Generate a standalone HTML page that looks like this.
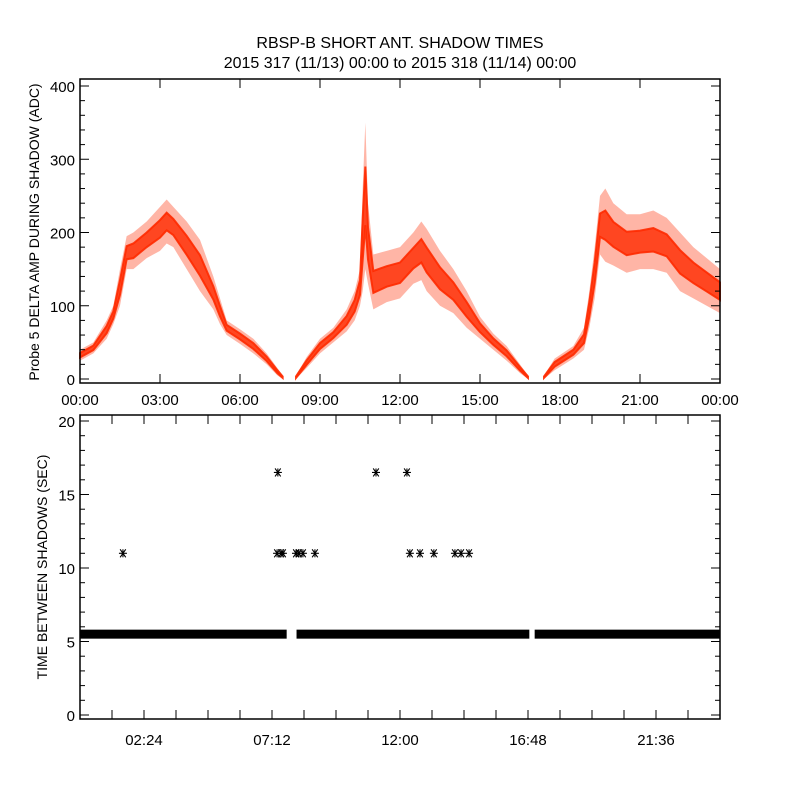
<!DOCTYPE html>
<html><head><meta charset="utf-8"><style>
body{margin:0;background:#fff;}
svg text{font-family:"Liberation Sans",sans-serif;fill:#000;}
</style></head><body>
<svg id="c" width="800" height="800" xmlns="http://www.w3.org/2000/svg">
<rect width="800" height="800" fill="#fff"/>
<text x="400" y="48" font-size="16" text-anchor="middle">RBSP-B SHORT ANT. SHADOW TIMES</text>
<text x="400" y="68" font-size="16" text-anchor="middle">2015 317 (11/13) 00:00 to 2015 318 (11/14) 00:00</text>
<g id="topPanel"></g><g id="botPanel"></g>
</svg>
<script>
// top panel data: hours, low envelope, high envelope (ADC)
const hrs1=[0,0.5,1.0,1.25,1.5,1.75,2.0,2.5,3.0,3.25,3.5,4.0,4.5,5.0,5.25,5.5,6.0,6.5,7.0,7.4,7.6];
const lo1=[25,35,55,75,100,150,150,165,175,185,180,150,120,95,75,60,48,35,20,5,0];
const hi1=[40,50,80,100,150,195,200,215,235,245,235,215,190,140,110,80,68,55,35,15,5];
const hrs2=[8.1,8.5,9.0,9.5,10.0,10.3,10.5,10.6,10.7,10.8,11.0,11.5,12.0,12.5,12.8,13.0,13.5,14.0,14.5,15.0,15.5,16.0,16.5,16.8];
const lo2=[0,15,35,50,65,80,100,120,150,130,95,105,110,130,135,120,100,90,70,55,40,25,8,0];
const hi2=[5,30,55,70,95,120,150,260,350,240,170,175,180,200,215,205,175,150,120,85,62,45,20,5];
const hrs3=[17.4,17.8,18.5,18.9,19.1,19.3,19.5,19.7,20.0,20.5,21.0,21.5,22.0,22.5,23.0,23.5,24.0];
const lo3=[0,12,28,40,70,110,170,160,155,145,150,150,145,120,110,100,90];
const hi3=[5,28,45,70,120,180,250,260,240,225,225,230,220,200,180,165,150];
const topTicks=["00:00","03:00","06:00","09:00","12:00","15:00","18:00","21:00","00:00"];
const topYTicks=[0,100,200,300,400];
// bottom panel data
const bandSegs=[[0,7.75],[8.12,16.85],[17.05,24]];
const bandVal=5.5;
const outT=[1.61,7.42,7.39,7.54,7.61,8.1,8.21,8.36,8.81,11.1,12.26,12.37,12.75,13.27,14.06,14.29,14.59];
const outV=[11,16.5,11,11,11,11,11,11,11,16.5,16.5,11,11,11,11,11,11];
const botTicks=["02:24","07:12","12:00","16:48","21:36"];
const botYTicks=[0,5,10,15,20];

const NS="http://www.w3.org/2000/svg";
function mk(p,tag,at){const e=document.createElementNS(NS,tag);for(const k in at)e.setAttribute(k,at[k]);p.appendChild(e);return e;}
const X=h=>80+h*640/24;
const Yt=v=>379-v*0.7325;
const Yb=v=>715-v*14.7;
const gTop=document.getElementById('topPanel'),gBot=document.getElementById('botPanel');

// top series
[[hrs1,lo1,hi1],[hrs2,lo2,hi2],[hrs3,lo3,hi3]].forEach((s,i)=>{
  const [h,l,u]=s;
  let pts=h.map((t,j)=>X(t)+','+Yt(u[j])).concat(h.map((t,j)=>X(t)+','+Yt(l[j])).reverse());
  const o=mk(gTop,'polygon',{points:pts.join(' '),fill:'#ff2a00','fill-opacity':'0.35'});
  
  
  let pc=h.map((t,j)=>X(t)+','+Yt(u[j]-(u[j]-l[j])*0.3)).concat(h.map((t,j)=>X(t)+','+Yt(l[j]+(u[j]-l[j])*0.3)).reverse());
  const c=mk(gTop,'polygon',{points:pc.join(' '),fill:'#ff2a00',stroke:'#ff2a00','stroke-width':'2','fill-opacity':'0.8','stroke-opacity':'0.9'});
  
  
});
// top axes
const tb=mk(gTop,'rect',{x:80,y:79,width:640,height:304,fill:'none',stroke:'#000','stroke-width':1.5});


for(let v=0;v<=400;v+=20){const y=Yt(v),L=v%100===0?9:5;
  mk(gTop,'line',{x1:80,x2:80+L,y1:y,y2:y,stroke:'#000'});mk(gTop,'line',{x1:720,x2:720-L,y1:y,y2:y,stroke:'#000'});}
topYTicks.forEach(v=>{const t=mk(gTop,'text',{x:75,y:Yt(v)+6,'font-size':15,'text-anchor':'end'});t.textContent=v;
  
  });
topTicks.forEach((s,i)=>{const x=X(i*3);
  mk(gTop,'line',{x1:x,x2:x,y1:383,y2:374,stroke:'#000'});mk(gTop,'line',{x1:x,x2:x,y1:79,y2:88,stroke:'#000'});
  const t=mk(gTop,'text',{x:x,y:405,'font-size':15,'text-anchor':'middle'});t.textContent=s;
  
  });
const ty=mk(gTop,'text',{x:0,y:0,'font-size':14,'text-anchor':'middle',transform:'translate(39,232) rotate(-90)'});
ty.textContent='Probe 5 DELTA AMP DURING SHADOW (ADC)';



// bottom band
bandSegs.forEach(s=>{const r=mk(gBot,'rect',{x:X(s[0]),y:Yb(bandVal)-4.5,width:X(s[1])-X(s[0]),height:9,fill:'#000'});
  
  });
outT.forEach((t,i)=>{const x=X(t),y=Yb(outV[i]),d=4;
  const g=mk(gBot,'g',{stroke:'#000','stroke-width':1.1});
  
  
  mk(g,'line',{x1:x-d,x2:x+d,y1:y,y2:y});mk(g,'line',{x1:x-d*0.7,x2:x+d*0.7,y1:y-d,y2:y+d});mk(g,'line',{x1:x-d*0.7,x2:x+d*0.7,y1:y+d,y2:y-d});mk(g,'line',{x1:x,x2:x,y1:y-d,y2:y+d});});
const bb=mk(gBot,'rect',{x:80,y:415,width:640,height:304,fill:'none',stroke:'#000','stroke-width':1.5});


for(let v=0;v<=20;v++){const y=Yb(v),L=v%5===0?9:5;
  mk(gBot,'line',{x1:80,x2:80+L,y1:y,y2:y,stroke:'#000'});mk(gBot,'line',{x1:720,x2:720-L,y1:y,y2:y,stroke:'#000'});}
botYTicks.forEach(v=>{const t=mk(gBot,'text',{x:75,y:Yb(v)+6,'font-size':15,'text-anchor':'end'});t.textContent=v;
  
  });
for(let k=1;k<20;k++){const x=X(k*1.2);
  mk(gBot,'line',{x1:x,x2:x,y1:719,y2:710,stroke:'#000'});mk(gBot,'line',{x1:x,x2:x,y1:415,y2:424,stroke:'#000'});}
botTicks.forEach((s,i)=>{const x=X(2.4+i*4.8);
  const t=mk(gBot,'text',{x:x,y:745,'font-size':15,'text-anchor':'middle'});t.textContent=s;
  
  });
const by=mk(gBot,'text',{x:0,y:0,'font-size':14,'text-anchor':'middle',transform:'translate(47,567) rotate(-90)'});
by.textContent='TIME BETWEEN SHADOWS (SEC)';


</script>
</body></html>
